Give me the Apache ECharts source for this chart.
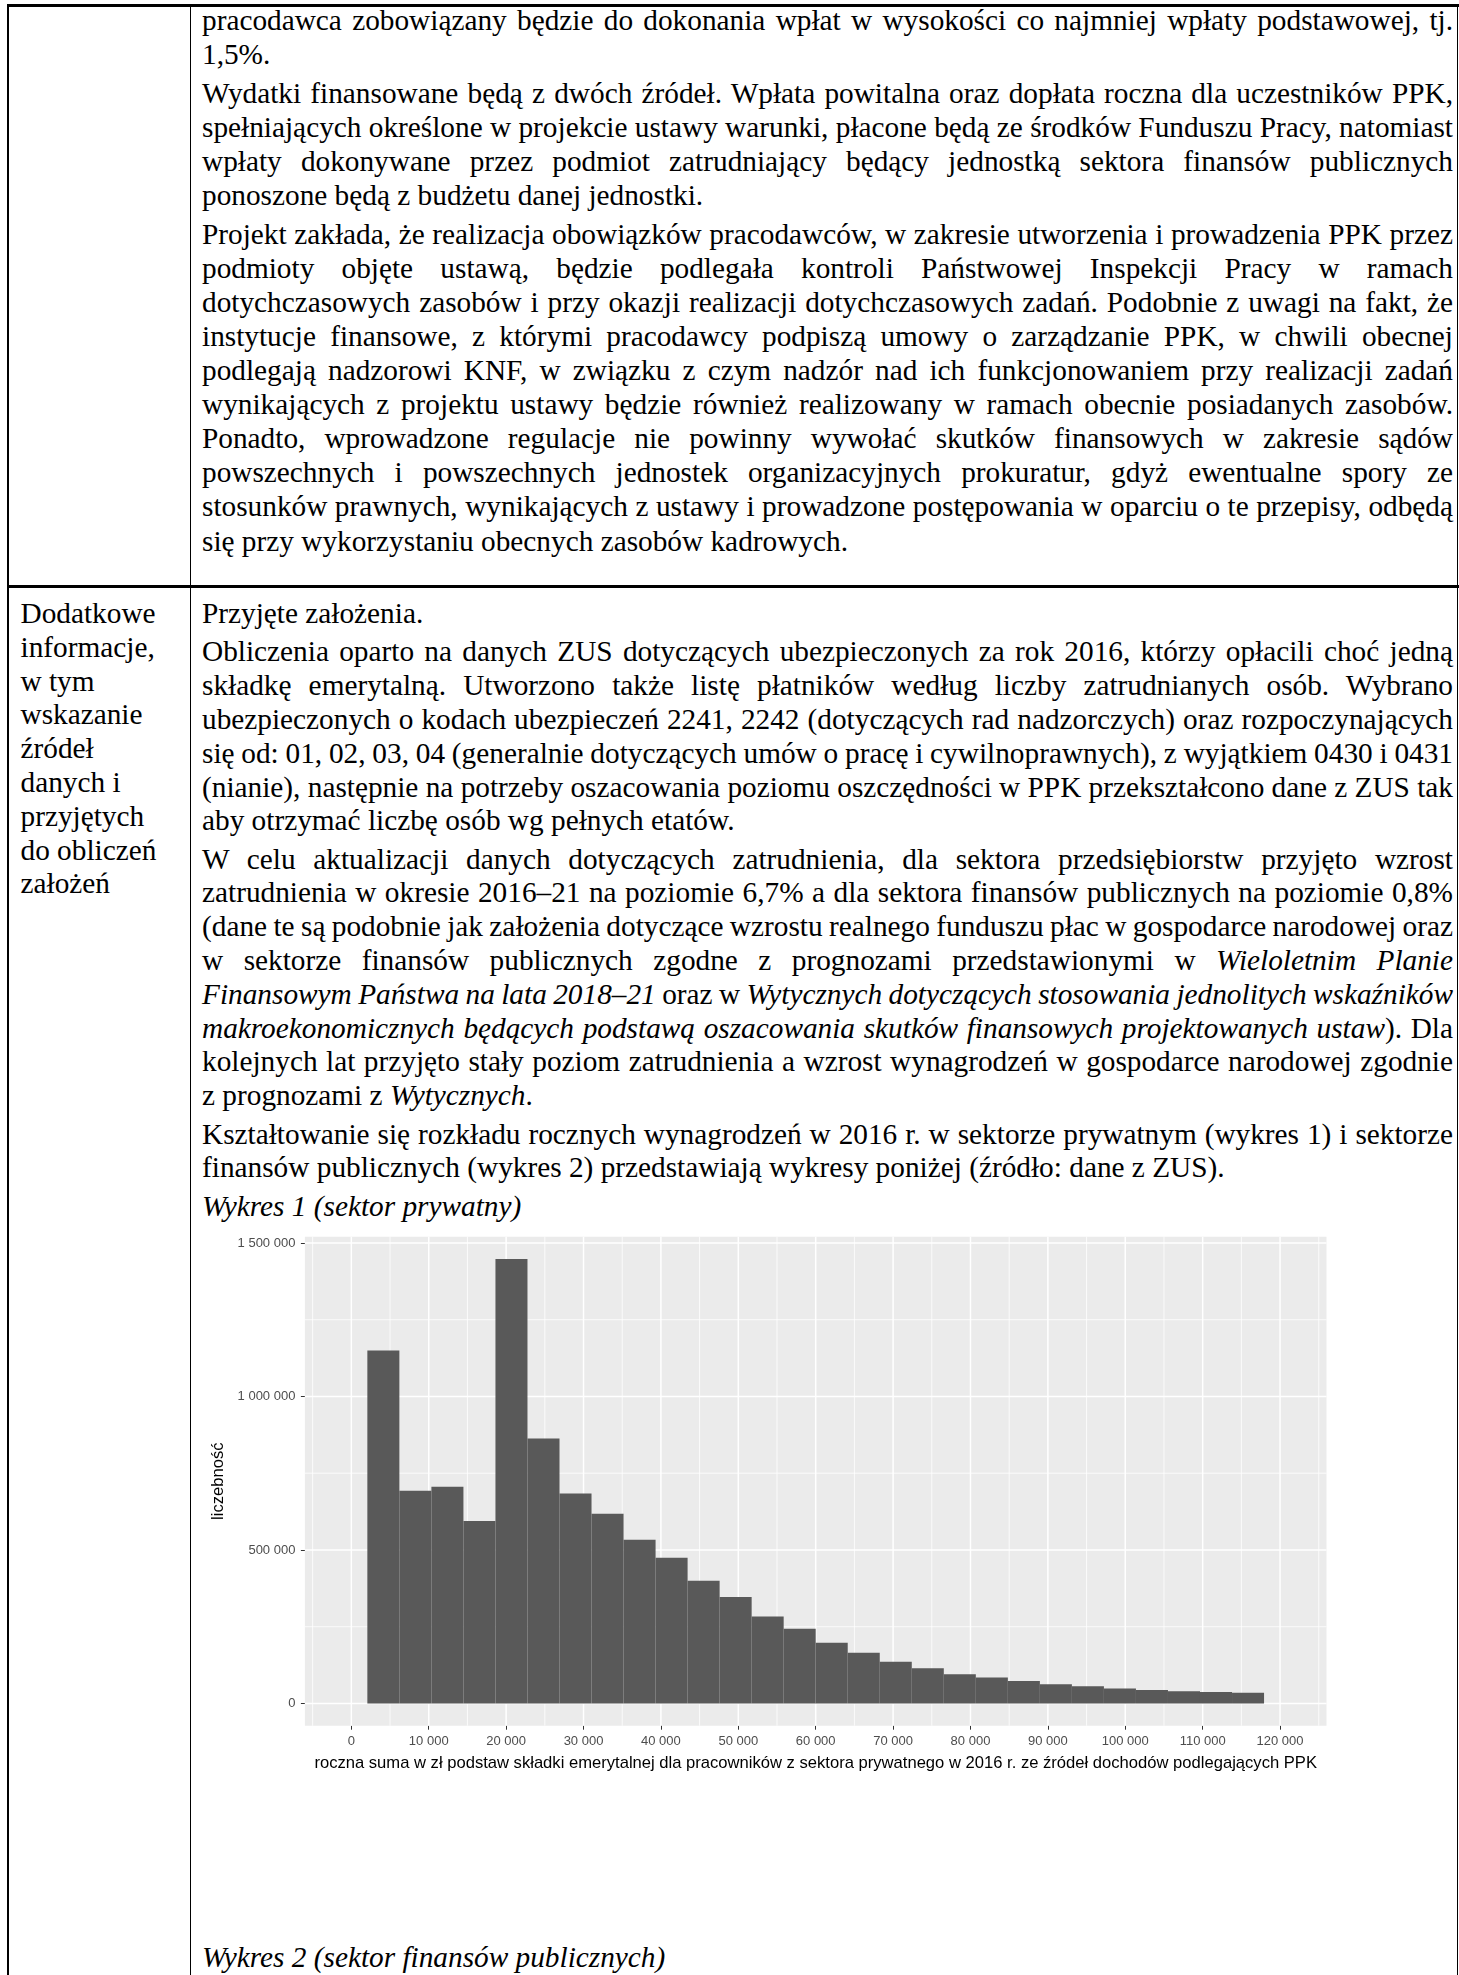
<!DOCTYPE html>
<html><head><meta charset="utf-8">
<script src="https://cdn.jsdelivr.net/npm/echarts@6/dist/echarts.min.js"></script>
<style>
html,body{margin:0;padding:0;background:#fff;}
body{width:1459px;height:1975px;position:relative;overflow:hidden;font-family:"Liberation Serif","Times New Roman",serif;font-size:29.3px;color:#000;}
.ln{position:absolute;height:34px;line-height:34px;white-space:nowrap;}
.ln span{display:inline-block;white-space:nowrap;}
.rule{position:absolute;background:#000;}
#chart{position:absolute;left:200px;top:1220px;width:1150px;height:600px;}
</style></head><body>
<div class="rule" style="left:7px;top:3.5px;width:1452px;height:3px"></div>
<div class="rule" style="left:7px;top:4px;width:1.5px;height:1971px"></div>
<div class="rule" style="left:189.5px;top:4px;width:1.5px;height:1971px"></div>
<div class="rule" style="left:1456.5px;top:4px;width:1.5px;height:1971px"></div>
<div class="rule" style="left:7px;top:585px;width:1452px;height:2.5px"></div>
<div id="text"></div>
<div id="chart"></div>
<script>
// ---- data (Wykres 1) ----
const binEdges = [2069, 6207, 10345, 14483, 18621, 22759, 26897, 31034, 35172, 39310, 43448, 47586, 51724, 55862, 60000, 64138, 68276, 72414, 76552, 80690, 84828, 88966, 93103, 97241, 101379, 105517, 109655, 113793, 117931];
const counts = [1150000, 693000, 706000, 594000, 1448000, 863000, 684000, 618000, 533000, 475000, 400000, 347000, 283000, 243000, 198000, 165000, 136000, 115000, 95000, 85000, 73000, 63000, 56000, 49000, 44000, 40000, 37000, 35000];
const xMajor = [0, 10000, 20000, 30000, 40000, 50000, 60000, 70000, 80000, 90000, 100000, 110000, 120000];
const xMinor = [-5000, 5000, 15000, 25000, 35000, 45000, 55000, 65000, 75000, 85000, 95000, 105000, 115000, 125000];
const yMajor = [0, 500000, 1000000, 1500000];
const yMinor = [250000, 750000, 1250000];
const xTitle = 'roczna suma w zł podstaw składki emerytalnej dla pracowników z sektora prywatnego w 2016 r. ze źródeł dochodów podlegających PPK';
const yTitle = 'liczebność';

// ---- document text ----
const row1 = [
  ['pracodawca zobowiązany będzie do dokonania wpłat w wysokości co najmniej wpłaty podstawowej, tj.', '1,5%.'],
  ['Wydatki finansowane będą z dwóch źródeł. Wpłata powitalna oraz dopłata roczna dla uczestników PPK,',
   'spełniających określone w projekcie ustawy warunki, płacone będą ze środków Funduszu Pracy, natomiast',
   'wpłaty dokonywane przez podmiot zatrudniający będący jednostką sektora finansów publicznych',
   'ponoszone będą z budżetu danej jednostki.'],
  ['Projekt zakłada, że realizacja obowiązków pracodawców, w zakresie utworzenia i prowadzenia PPK przez',
   'podmioty objęte ustawą, będzie podlegała kontroli Państwowej Inspekcji Pracy w ramach',
   'dotychczasowych zasobów i przy okazji realizacji dotychczasowych zadań. Podobnie z uwagi na fakt, że',
   'instytucje finansowe, z którymi pracodawcy podpiszą umowy o zarządzanie PPK, w chwili obecnej',
   'podlegają nadzorowi KNF, w związku z czym nadzór nad ich funkcjonowaniem przy realizacji zadań',
   'wynikających z projektu ustawy będzie również realizowany w ramach obecnie posiadanych zasobów.',
   'Ponadto, wprowadzone regulacje nie powinny wywołać skutków finansowych w zakresie sądów',
   'powszechnych i powszechnych jednostek organizacyjnych prokuratur, gdyż ewentualne spory ze',
   'stosunków prawnych, wynikających z ustawy i prowadzone postępowania w oparciu o te przepisy, odbędą',
   'się przy wykorzystaniu obecnych zasobów kadrowych.']
];
const row2 = [
  ['Przyjęte założenia.'],
  ['Obliczenia oparto na danych ZUS dotyczących ubezpieczonych za rok 2016, którzy opłacili choć jedną',
   'składkę emerytalną. Utworzono także listę płatników według liczby zatrudnianych osób. Wybrano',
   'ubezpieczonych o kodach ubezpieczeń 2241, 2242 (dotyczących rad nadzorczych) oraz rozpoczynających',
   'się od: 01, 02, 03, 04 (generalnie dotyczących umów o pracę i cywilnoprawnych), z wyjątkiem 0430 i 0431',
   '(nianie), następnie na potrzeby oszacowania poziomu oszczędności w PPK przekształcono dane z ZUS tak',
   'aby otrzymać liczbę osób wg pełnych etatów.'],
  ['W celu aktualizacji danych dotyczących zatrudnienia, dla sektora przedsiębiorstw przyjęto wzrost',
   'zatrudnienia w okresie 2016–21 na poziomie 6,7% a dla sektora finansów publicznych na poziomie 0,8%',
   '(dane te są podobnie jak założenia dotyczące wzrostu realnego funduszu płac w gospodarce narodowej oraz',
   'w sektorze finansów publicznych zgodne z prognozami przedstawionymi w <i>Wieloletnim Planie</i>',
   '<i>Finansowym Państwa na lata 2018–21</i> oraz w <i>Wytycznych dotyczących stosowania jednolitych wskaźników</i>',
   '<i>makroekonomicznych będących podstawą oszacowania skutków finansowych projektowanych ustaw</i>). Dla',
   'kolejnych lat przyjęto stały poziom zatrudnienia a wzrost wynagrodzeń w gospodarce narodowej zgodnie',
   'z prognozami z <i>Wytycznych</i>.'],
  ['Kształtowanie się rozkładu rocznych wynagrodzeń w 2016 r. w sektorze prywatnym (wykres 1) i sektorze',
   'finansów publicznych (wykres 2) przedstawiają wykresy poniżej (źródło: dane z ZUS).'],
  ['<i>Wykres 1 (sektor prywatny)</i>']
];
const leftCol = ['Dodatkowe', 'informacje,', 'w tym', 'wskazanie', 'źródeł', 'danych i', 'przyjętych', 'do obliczeń', 'założeń'];

const GAP = 4.5, LX = 202, RX = 1453;
const host = document.getElementById('text');
function addLine(html, cx, cy, justify, width) {
  const d = document.createElement('div');
  d.className = 'ln';
  d.style.left = cx + 'px';
  d.style.top = (cy - 18) + 'px';
  const s = document.createElement('span');
  s.innerHTML = html;
  d.appendChild(s);
  host.appendChild(d);
  if (justify) {
    const w = s.getBoundingClientRect().width;
    const n = (s.textContent.match(/ /g) || []).length;
    if (n > 0) s.style.wordSpacing = ((width - w) / n) + 'px';
  }
}
function layoutRow(paras, startY, pitch) {
  let y = startY;
  paras.forEach((p, pi) => {
    if (pi > 0) y += GAP;
    p.forEach((l, li) => {
      addLine(l, LX, y, li < p.length - 1, RX - LX);
      y += pitch;
    });
  });
}
layoutRow(row1, 21, 34.1);
layoutRow(row2, 614, 33.8);
leftCol.forEach((t, i) => addLine(t, 20.5, 614 + i * 33.8, false, 0));
addLine('<i>Wykres 2 (sektor finansów publicznych)</i>', LX, 1958, false, 0);

// ---- chart ----
const fmt = v => String(v).replace(/\B(?=(\d{3})+(?!\d))/g, ' ');
const chart = echarts.init(document.getElementById('chart'), null, {renderer: 'canvas'});
function vLines(width) {
  return function (params, api) {
    const cs = params.coordSys;
    const x = api.coord([api.value(0), 0])[0];
    return {type: 'line', shape: {x1: x, y1: cs.y, x2: x, y2: cs.y + cs.height}, style: {stroke: '#FFFFFF', lineWidth: width}};
  };
}
function hLines(width) {
  return function (params, api) {
    const cs = params.coordSys;
    const y = api.coord([0, api.value(1)])[1];
    return {type: 'line', shape: {x1: cs.x, y1: y, x2: cs.x + cs.width, y2: y}, style: {stroke: '#FFFFFF', lineWidth: width}};
  };
}
const sans = 'Liberation Sans, Arial, sans-serif';
chart.setOption({
  animation: false,
  grid: {left: 104.9, top: 16.7, width: 1021.6, height: 489, show: true, backgroundColor: '#EBEBEB', borderWidth: 0},
  xAxis: {
    type: 'value', min: -6000, max: 126000,
    name: xTitle, nameLocation: 'middle', nameGap: 29,
    nameTextStyle: {fontFamily: sans, fontSize: 16.6, color: '#000'},
    axisLine: {show: false, onZero: false},
    axisTick: {show: true, length: 4, customValues: xMajor, lineStyle: {color: '#333333', width: 1}},
    axisLabel: {customValues: xMajor, formatter: fmt, margin: 9.5, color: '#4D4D4D', fontSize: 13, fontFamily: sans},
    splitLine: {show: false}
  },
  yAxis: {
    type: 'value', min: -72400, max: 1520400,
    name: yTitle, nameLocation: 'middle', nameGap: 71.5, nameRotate: 90,
    nameTextStyle: {fontFamily: sans, fontSize: 16.6, color: '#000'},
    axisLine: {show: false, onZero: false},
    axisTick: {show: true, length: 4, customValues: yMajor, lineStyle: {color: '#333333', width: 1}},
    axisLabel: {customValues: yMajor, formatter: fmt, margin: 9.5, color: '#4D4D4D', fontSize: 13, fontFamily: sans},
    splitLine: {show: false}
  },
  series: [
    {type: 'custom', renderItem: hLines(0.8), data: yMinor.map(v => [0, v]), z: 1, silent: true},
    {type: 'custom', renderItem: vLines(0.8), data: xMinor.map(v => [v, 0]), z: 1, silent: true},
    {type: 'custom', renderItem: hLines(1.5), data: yMajor.map(v => [0, v]), z: 1, silent: true},
    {type: 'custom', renderItem: vLines(1.5), data: xMajor.map(v => [v, 0]), z: 1, silent: true},
    {
      type: 'custom', z: 2, silent: true,
      renderItem: function (params, api) {
        const p0 = api.coord([api.value(0), 0]);
        const p1 = api.coord([api.value(1), api.value(2)]);
        return {type: 'rect', shape: {x: p0[0], y: p1[1], width: p1[0] - p0[0], height: p0[1] - p1[1]}, style: {fill: '#595959'}};
      },
      encode: {x: [0, 1], y: 2},
      data: counts.map((c, i) => [binEdges[i], binEdges[i + 1], c])
    }
  ]
});
</script>
</body></html>
